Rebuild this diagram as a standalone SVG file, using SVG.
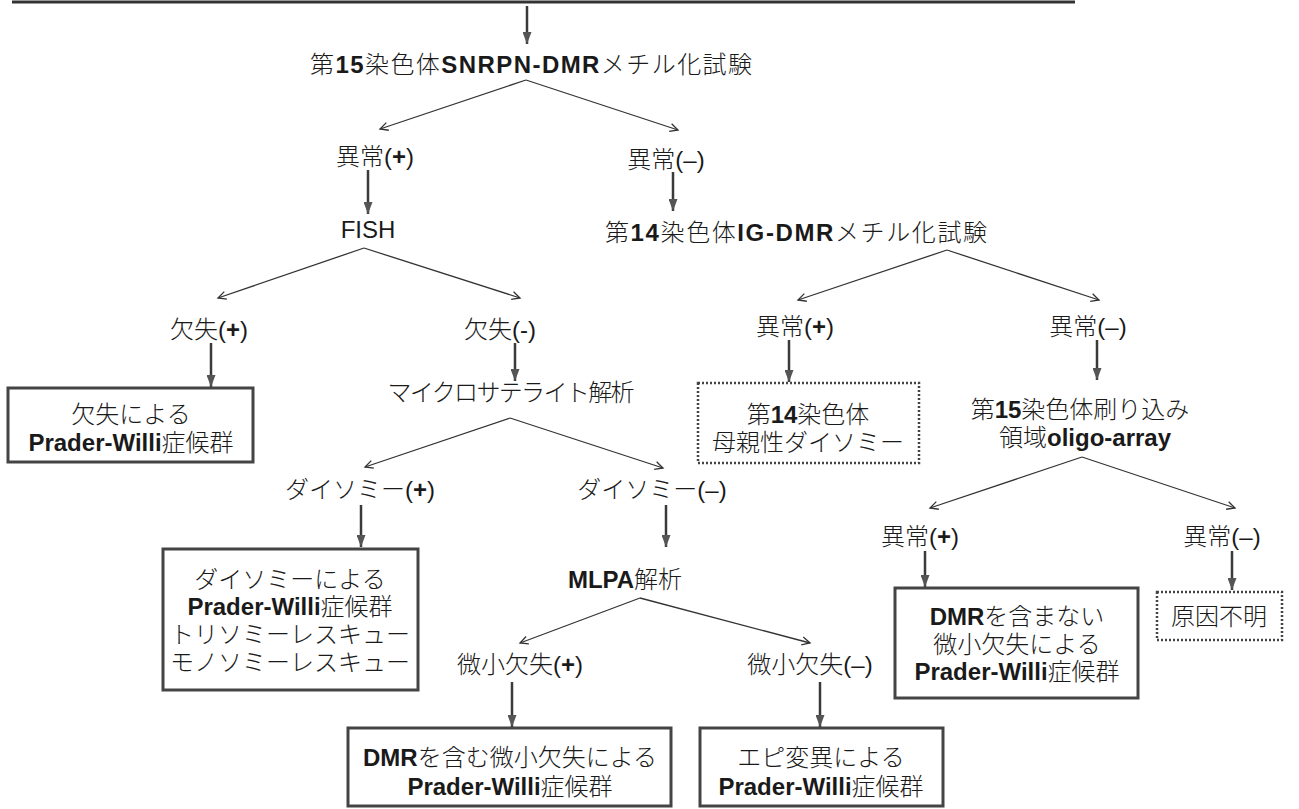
<svg xmlns="http://www.w3.org/2000/svg" width="1299" height="809" viewBox="0 0 1299 809">
<defs>
<style>
text{font-family:"Liberation Sans","Noto Sans CJK JP",sans-serif;font-size:24px;font-weight:300;fill:#1a1a1a;text-anchor:middle}
.b{font-weight:bold}
.box{fill:#fff;stroke:#444;stroke-width:3}
.dot{fill:#fff;stroke:#444;stroke-width:2.5;stroke-dasharray:2 2}
.v{stroke:#3a3a3a;stroke-width:2.5;fill:none;marker-end:url(#tri)}
.d{stroke:#333;stroke-width:1.3;fill:none;marker-end:url(#chev)}
</style>
<marker id="tri" markerUnits="userSpaceOnUse" markerWidth="12" markerHeight="9" refX="12" refY="4.5" orient="auto" viewBox="0 0 12 9">
<path d="M0,0 L12,4.5 L0,9 Z" fill="#555"/>
</marker>
<marker id="chev" markerUnits="userSpaceOnUse" markerWidth="12" markerHeight="10" refX="9" refY="5" orient="auto" viewBox="0 0 12 10">
<path d="M1,1 L9,5 L1,9" fill="none" stroke="#333" stroke-width="1.3"/>
</marker>
</defs>
<rect width="1299" height="809" fill="#fff"/>
<line x1="12" y1="2" x2="1075" y2="2" stroke="#333" stroke-width="3"/>
<g id="connectors">
<line class="v" x1="527" y1="6" x2="527" y2="44"/>
<line class="d" x1="526" y1="80" x2="380" y2="129"/>
<line class="d" x1="526" y1="80" x2="678" y2="130"/>
<line class="v" x1="368" y1="170" x2="368" y2="214"/>
<line class="v" x1="673" y1="172" x2="673" y2="211"/>
<line class="d" x1="364" y1="248" x2="218" y2="298"/>
<line class="d" x1="364" y1="248" x2="520" y2="298"/>
<line class="d" x1="947" y1="250" x2="798" y2="300"/>
<line class="d" x1="947" y1="250" x2="1099" y2="300"/>
<line class="v" x1="211" y1="343" x2="211" y2="387"/>
<line class="v" x1="515" y1="343" x2="515" y2="381"/>
<line class="v" x1="789" y1="340" x2="789" y2="382"/>
<line class="v" x1="1097" y1="340" x2="1097" y2="380"/>
<line class="d" x1="510" y1="418" x2="365" y2="467"/>
<line class="d" x1="510" y1="418" x2="663" y2="468"/>
<line class="d" x1="1082" y1="457" x2="930" y2="508"/>
<line class="d" x1="1082" y1="457" x2="1235" y2="508"/>
<line class="v" x1="361" y1="505" x2="361" y2="547"/>
<line class="v" x1="666" y1="505" x2="666" y2="547"/>
<line class="v" x1="925" y1="551" x2="925" y2="587"/>
<line class="v" x1="1232" y1="551" x2="1232" y2="590"/>
<line class="d" x1="640" y1="598" x2="520" y2="643"/>
<line class="d" x1="640" y1="598" x2="810" y2="643"/>
<line class="v" x1="512" y1="682" x2="512" y2="727"/>
<line class="v" x1="820" y1="682" x2="820" y2="727"/>
</g>
<g id="n-snrpn"><text x="531" y="73" textLength="442" lengthAdjust="spacing">第<tspan class="b">15</tspan>染色体<tspan class="b">SNRPN-DMR</tspan>メチル化試験</text></g>
<g id="n-abn1p"><text x="375" y="165">異常(<tspan class="b">+</tspan>)</text></g>
<g id="n-abn1m"><text x="666" y="168">異常(–)</text></g>
<g id="n-fish"><text x="368" y="238">FISH</text></g>
<g id="n-igdmr"><text x="796" y="241" textLength="382" lengthAdjust="spacing">第<tspan class="b">14</tspan>染色体<tspan class="b">IG-DMR</tspan>メチル化試験</text></g>
<g id="n-delp"><text x="209" y="338">欠失(<tspan class="b">+</tspan>)</text></g>
<g id="n-delm"><text x="500" y="338">欠失(-)</text></g>
<g id="n-abn2p"><text x="795" y="335">異常(<tspan class="b">+</tspan>)</text></g>
<g id="n-abn2m"><text x="1088" y="335">異常(–)</text></g>
<g id="n-r-del"><rect class="box" x="8" y="388" width="245" height="74"/><text x="131" y="423">欠失による</text><text x="131" y="451"><tspan class="b">Prader-Willi</tspan>症候群</text></g>
<g id="n-micro"><text x="511" y="401" textLength="247" lengthAdjust="spacing">マイクロサテライト解析</text></g>
<g id="n-r-upd14"><rect class="dot" x="698" y="383" width="221" height="80"/><text x="808" y="423">第<tspan class="b">14</tspan>染色体</text><text x="808" y="451">母親性ダイソミー</text></g>
<g id="n-oligo"><text x="1080" y="418">第<tspan class="b">15</tspan>染色体刷り込み</text><text x="1085" y="446">領域<tspan class="b">oligo-array</tspan></text></g>
<g id="n-disp"><text x="360" y="498">ダイソミー(<tspan class="b">+</tspan>)</text></g>
<g id="n-dism"><text x="652" y="498">ダイソミー(–)</text></g>
<g id="n-abn3p"><text x="920" y="545">異常(<tspan class="b">+</tspan>)</text></g>
<g id="n-abn3m"><text x="1222" y="545">異常(–)</text></g>
<g id="n-r-upd"><rect class="box" x="163" y="549" width="255" height="141"/><text x="290" y="588">ダイソミーによる</text><text x="290" y="615"><tspan class="b">Prader-Willi</tspan>症候群</text><text x="290" y="643">トリソミーレスキュー</text><text x="290" y="671">モノソミーレスキュー</text></g>
<g id="n-mlpa"><text x="625" y="588"><tspan class="b">MLPA</tspan>解析</text></g>
<g id="n-r-nodmr"><rect class="box" x="895" y="588" width="243" height="110"/><text x="1017" y="625"><tspan class="b">DMR</tspan>を含まない</text><text x="1017" y="653">微小欠失による</text><text x="1017" y="680"><tspan class="b">Prader-Willi</tspan>症候群</text></g>
<g id="n-r-unknown"><rect class="dot" x="1157" y="592" width="125" height="48"/><text x="1219" y="625">原因不明</text></g>
<g id="n-mdp"><text x="520" y="673">微小欠失(<tspan class="b">+</tspan>)</text></g>
<g id="n-mdm"><text x="810" y="673">微小欠失(–)</text></g>
<g id="n-r-dmr"><rect class="box" x="348" y="728" width="323" height="78"/><text x="510" y="766"><tspan class="b">DMR</tspan>を含む微小欠失による</text><text x="510" y="795"><tspan class="b">Prader-Willi</tspan>症候群</text></g>
<g id="n-r-epi"><rect class="box" x="700" y="728" width="243" height="78"/><text x="821" y="766">エピ変異による</text><text x="821" y="795"><tspan class="b">Prader-Willi</tspan>症候群</text></g>
</svg>
